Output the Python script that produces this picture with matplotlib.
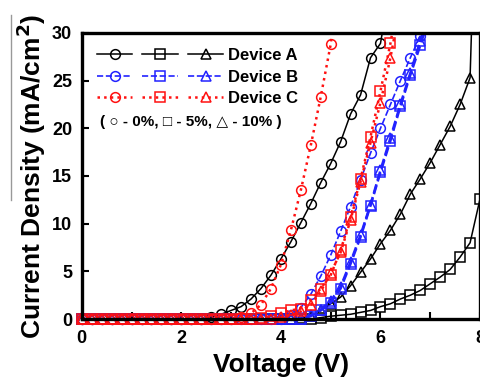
import numpy as np
import matplotlib
matplotlib.use("Agg")
import matplotlib.pyplot as plt
from matplotlib.lines import Line2D
from matplotlib.patches import Rectangle
from matplotlib.legend_handler import HandlerTuple

plt.rcParams['font.family'] = ['Liberation Sans', 'DejaVu Sans']
plt.rcParams['font.weight'] = 'bold'

# voltaje (V), paso de 0.2 V
voltage = [0.0, 0.2, 0.4, 0.6, 0.8, 1.0, 1.2, 1.4, 1.6, 1.8,
           2.0, 2.2, 2.4, 2.6, 2.8, 3.0, 3.2, 3.4, 3.6, 3.8,
           4.0, 4.2, 4.4, 4.6, 4.8, 5.0, 5.2, 5.4, 5.6, 5.8,
           6.0, 6.2, 6.4, 6.6, 6.8, 7.0, 7.2, 7.4, 7.6, 7.8, 8.0]
nan = np.nan

# Device A (0%, 5%, 10%)
a_0 = [0]*13 + [0.2, 0.5, 0.9, 1.3, 2.1, 3.2, 4.6, 6.3, 8.1, 10.1, 12.1, 14.3,
                16.3, 18.6, 21.5, 23.5, 27.4, 28.9, 35] + [nan]*9
a_5 = [0]*24 + [0.15, 0.3, 0.4, 0.5, 0.7, 0.9, 1.3, 1.6, 2.1, 2.5, 3.0, 3.7,
                4.4, 5.2, 6.5, 8.0, 12.6]
a_10 = [0]*22 + [0.1, 0.3, 0.9, 1.6, 2.3, 3.5, 4.9, 6.3, 7.9, 9.3, 11.0, 13.1,
                 14.7, 16.4, 18.3, 20.2, 22.5, 25.3, 60]

# Device B
b_0 = [0]*21 + [0.4, 1.2, 2.6, 4.5, 6.7, 9.2, 11.8, 14.6, 17.4, 20.0, 22.5,
                25.0, 27.4, 29.7, 32.5] + [nan]*5
b_5 = [0]*23 + [0.3, 0.9, 1.7, 3.2, 5.8, 8.6, 11.9, 15.4, 18.7, 22.3, 25.6,
                28.7, 32.0] + [nan]*5
b_10 = [0]*23 + [0.4, 1.0, 1.9, 3.4, 6.0, 8.8, 12.0, 15.6, 19.0, 22.5, 25.8,
                 29.2, 32.5] + [nan]*5

# Device C
c_0 = [0]*16 + [0.2, 0.6, 1.5, 3.2, 5.7, 9.3, 13.5, 18.2, 23.3, 28.8, 38] + [nan]*14
c_5 = [0]*18 + [0.1, 0.3, 0.6, 0.9, 1.1, 2.0, 3.2, 4.6, 7.2, 10.7, 14.7, 19.1,
                23.9, 28.9, 35] + [nan]*8
c_10 = [0]*20 + [0.2, 0.4, 0.8, 1.5, 2.9, 4.8, 7.0, 10.4, 14.4, 18.5, 22.7,
                 27.4, 33] + [nan]*8

devices = ['Device A', 'Device B', 'Device C']
series = [[a_0, a_5, a_10], [b_0, b_5, b_10], [c_0, c_5, c_10]]
colors = ['black', '#2222ff', '#ff1111']
styles = ['-', '--', ':']
widths = [[1.1, 1.1, 1.1], [1.2, 1.8, 1.8], [1.8, 1.8, 1.8]]
markers = ['o', 's', '^']
msizes = [7, 6.5, 6.5]

fig = plt.figure(figsize=(4.81, 3.83), dpi=100)
ax = fig.add_axes([0.170, 0.167, 0.828, 0.747])

clip = Rectangle((-0.05, -0.05), 1.1, 1.05, transform=ax.transAxes)

for dev, ys, col, ls, lws in zip(devices, series, colors, styles, widths):
    for y, mk, ms, lw in zip(ys, markers, msizes, lws):
        ln, = ax.plot(voltage, y, color=col, ls=ls, lw=lw, marker=mk, ms=ms,
                      mfc='none', mec=col, mew=1.1)
        ln.set_clip_path(clip)

ax.set_xlim(0, 8)
ax.set_ylim(0, 30)
ax.set_xticks([0, 2, 4, 6, 8])
ax.set_xticks([1, 3, 5, 7], minor=True)
ax.set_yticks([0, 5, 10, 15, 20, 25, 30])
ax.tick_params(axis='both', which='both', direction='in', length=5, width=1.5,
               labelsize=13, pad=8)
ax.tick_params(axis='y', pad=7)
for s in ax.spines.values():
    s.set_linewidth(2.4)

ax.set_xlabel('Voltage (V)', fontsize=19, fontweight='bold', labelpad=4)
ax.set_ylabel('Current Density (mA/cm$\\mathbf{^2}$)', fontsize=19,
              fontweight='bold', labelpad=3)

# leyenda: una fila por dispositivo con los tres marcadores
handles = []
for col, ls, lws in zip(colors, styles, widths):
    handles.append(tuple(Line2D([], [], color=col, ls=ls, lw=lws[0], marker=mk,
                                ms=ms, mfc='none', mec=col, mew=1.1)
                         for mk, ms in zip(markers, msizes)))
ax.legend(handles, devices, handler_map={tuple: HandlerTuple(ndivide=None, pad=0.6)},
          loc='upper left', bbox_to_anchor=(0.0, 1.0), frameon=False,
          handlelength=7.6, handletextpad=0.3, labelspacing=0.4,
          borderaxespad=0.5, prop={'size': 12, 'weight': 'bold'})
ax.text(0.045, 0.69, '( \u25cb - 0%, \u25a1 - 5%, \u25b3 - 10% )',
        transform=ax.transAxes, fontsize=11, fontweight='bold', va='center')

# linea gris del recorte original
fig.add_artist(Line2D([11/481, 11/481], [1 - 15/383, 1 - 200/383],
                      color='#999999', lw=1))

fig.savefig('out.png', dpi=100)
